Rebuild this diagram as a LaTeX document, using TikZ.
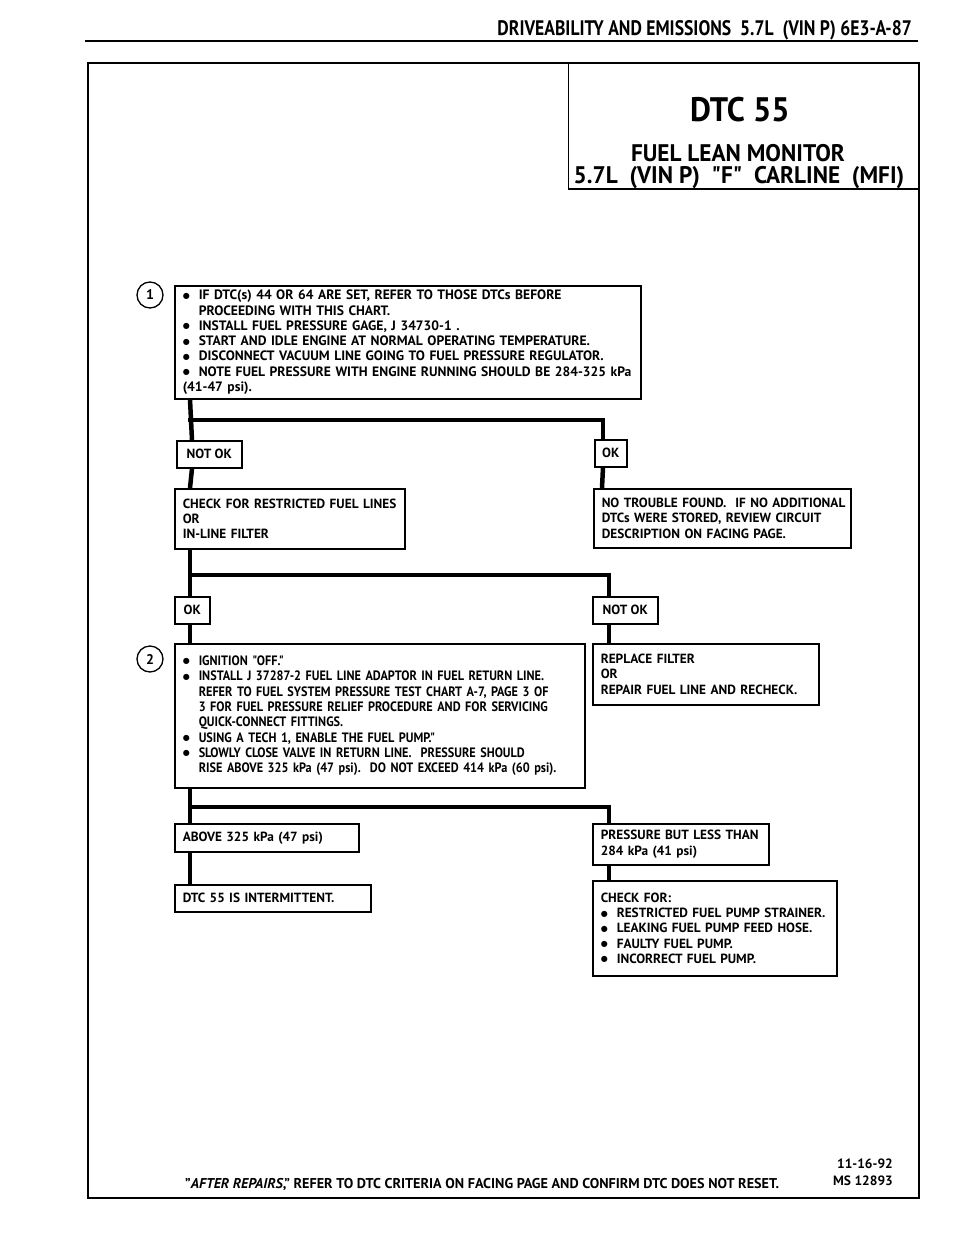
\documentclass[tikz,border=0pt]{standalone}
\usepackage{fontspec}
\setmainfont{PT Sans}
\newfontfamily\hdrfont{PT Sans}[FakeStretch=0.84]
\newfontfamily\ttlfont{PT Sans}[FakeStretch=0.97]
\newfontfamily\dtcfont{PT Sans}[FakeStretch=0.95]
\newfontfamily\narrowfont{PT Sans}[FakeStretch=0.9]
\newfontfamily\symfont{DejaVu Sans}
\newcommand\bl{\makebox[16pt][l]{\raisebox{1.6pt}{\symfont\fontsize{8}{8}\selectfont ●}}}
\newcommand\ind{\hspace*{16pt}}
\begin{document}
\begin{tikzpicture}[x=1pt,y=-1pt,
 box/.style={draw,line width=1.5pt,anchor=north west,align=left,inner xsep=8pt,inner ysep=3pt,font=\bfseries\fontsize{13.3}{15.3}\selectfont},
 tag/.style={draw,line width=1.5pt,anchor=north west,align=center,inner sep=3pt,minimum height=27pt,font=\bfseries\fontsize{13.3}{15.3}\selectfont},
 conn/.style={line width=4.5pt},
 num/.style={draw,circle,line width=1.3pt,minimum size=26pt,inner sep=0pt,font=\bfseries\fontsize{14}{14}\selectfont},
 plain/.style={inner sep=0pt}]
\useasboundingbox (0,0) rectangle (960,1250);
% header
\node[plain,anchor=base east,font=\hdrfont\bfseries\fontsize{21}{24}\selectfont] (hdr) at (912,35) {DRIVEABILITY AND EMISSIONS\ \ 5.7L\ \ (VIN P) 6E3-A-87};
\coordinate (r0) at (85,41);
\coordinate (r1) at (918,41);
\draw[line width=2.5pt] (r0) -- (r1);
% frame
\node[draw,line width=2.4pt,anchor=north west,minimum width=831pt,minimum height=1135pt,inner sep=0pt] (frame) at (87,62) {};
\node[draw,line width=1.8pt,anchor=north east,minimum width=351pt,minimum height=126pt,inner sep=0pt] (title) at (frame.north east) {};
\node[plain,anchor=base,font=\dtcfont\bfseries\fontsize{34}{36}\selectfont] (t1) at (740,121) {DTC 55};
\node[plain,anchor=base,font=\ttlfont\bfseries\fontsize{24}{26}\selectfont] (t2) at (738,161) {FUEL LEAN MONITOR};
\node[plain,anchor=base,font=\ttlfont\bfseries\fontsize{24}{26}\selectfont] (t3) at (739,183) {5.7L\ \ (VIN P)\ \ "F"\ \ CARLINE\ \ (MFI)};
% step 1
\node[num] (c1) at (150,295) {1};
\node[box,text width=450pt,minimum height=113pt,font=\bfseries\fontsize{13.6}{15.3}\selectfont] (b1) at (174,285) {\bl IF DTC(s) 44 OR 64 ARE SET, REFER TO THOSE DTCs BEFORE\\
\ind PROCEEDING WITH THIS CHART.\\
\bl INSTALL FUEL PRESSURE GAGE, J 34730-1 .\\
\bl START AND IDLE ENGINE AT NORMAL OPERATING TEMPERATURE.\\
\bl DISCONNECT VACUUM LINE GOING TO FUEL PRESSURE REGULATOR.\\
\bl \mbox{NOTE FUEL PRESSURE WITH ENGINE RUNNING SHOULD BE 284-325 kPa}\\
(41-47 psi).};
\node[tag,minimum width=65pt] (nok1) at (176,440) {NOT OK};
\node[tag,minimum width=32pt] (ok1) at (594,439) {OK};
\node[box,text width=214pt,minimum height=60pt] (chk) at (174,488) {\mbox{CHECK FOR RESTRICTED FUEL LINES}\\OR\\IN-LINE FILTER};
\node[box,text width=241pt,minimum height=59pt] (ntf) at (593,488) {\mbox{NO TROUBLE FOUND.\ \ IF NO ADDITIONAL}\\\mbox{DTCs WERE STORED, REVIEW CIRCUIT}\\\mbox{DESCRIPTION ON FACING PAGE.}};
\coordinate (h1) at (188,420);
\draw[conn] ([xshift=16pt]b1.south west) -- ([xshift=16pt]nok1.north west);
\draw[conn] (h1) -| ([xshift=9pt]ok1.north west);
\draw[conn] ([xshift=16pt]nok1.south west) -- ([xshift=16pt]chk.north west);
\draw[conn] ([xshift=9pt]ok1.south west) -- ([xshift=9pt]ntf.north west);
% step 2
\node[tag,minimum width=35pt] (ok2) at (174,596) {OK};
\node[tag,minimum width=65pt] (nok2) at (592,596) {NOT OK};
\node[num] (c2) at (150,659) {2};
\node[box,text width=394pt,minimum height=144pt,font=\narrowfont\bfseries\fontsize{13.6}{15.3}\selectfont] (b2) at (174,643) {\bl IGNITION "OFF."\\
\bl \mbox{INSTALL J 37287-2 FUEL LINE ADAPTOR IN FUEL RETURN LINE.}\\
\ind \mbox{REFER TO FUEL SYSTEM PRESSURE TEST CHART A-7, PAGE 3 OF}\\
\ind \mbox{3 FOR FUEL PRESSURE RELIEF PROCEDURE AND FOR SERVICING}\\
\ind QUICK-CONNECT FITTINGS.\\
\bl USING A TECH 1, ENABLE THE FUEL PUMP."\\
\bl SLOWLY CLOSE VALVE IN RETURN LINE.\ \ PRESSURE SHOULD\\
\ind \mbox{RISE ABOVE 325 kPa (47 psi).\ \ DO NOT EXCEED 414 kPa (60 psi).}};
\node[box,text width=210pt,minimum height=61pt] (rep) at (592,643) {REPLACE FILTER\\OR\\\mbox{REPAIR FUEL LINE AND RECHECK.}};
\coordinate (h2) at (188,575);
\draw[conn] ([xshift=16pt]chk.south west) -- ([xshift=16pt]ok2.north west);
\draw[conn] (h2) -| ([xshift=17pt]nok2.north west);
\draw[conn] ([xshift=16pt]ok2.south west) -- ([xshift=16pt]b2.north west);
\draw[conn] ([xshift=17pt]nok2.south west) -- ([xshift=17pt]rep.north west);
% step 3
\node[box,text width=168pt,minimum height=28pt] (above) at (174,823) {ABOVE 325 kPa (47 psi)};
\node[box,text width=160pt,minimum height=41pt] (press) at (592,823) {\mbox{PRESSURE BUT LESS THAN}\\284 kPa (41 psi)};
\node[box,text width=180pt,minimum height=27pt] (intm) at (174,884) {DTC 55 IS INTERMITTENT.};
\node[box,text width=228pt,minimum height=95pt] (chkfor) at (592,880) {CHECK FOR:\\
\bl \mbox{RESTRICTED FUEL PUMP STRAINER.}\\
\bl \mbox{LEAKING FUEL PUMP FEED HOSE.}\\
\bl FAULTY FUEL PUMP.\\
\bl INCORRECT FUEL PUMP.};
\coordinate (h3) at (188,807);
\draw[conn] ([xshift=16pt]b2.south west) -- ([xshift=16pt]above.north west);
\draw[conn] (h3) -| ([xshift=17pt]press.north west);
\draw[conn] ([xshift=16pt]above.south west) -- ([xshift=16pt]intm.north west);
\draw[conn] ([xshift=17pt]press.south west) -- ([xshift=17pt]chkfor.north west);
% footer
\node[plain,anchor=base west,font=\bfseries\fontsize{14.2}{16}\selectfont] (foot) at (185,1188) {"\textit{AFTER REPAIRS},"\ REFER TO DTC CRITERIA ON FACING PAGE AND CONFIRM DTC DOES NOT RESET.};
\node[plain,anchor=base east,align=right,font=\bfseries\fontsize{13.5}{17}\selectfont] (code) at (893,1185) {11-16-92\\MS 12893};
\end{tikzpicture}
\end{document}
